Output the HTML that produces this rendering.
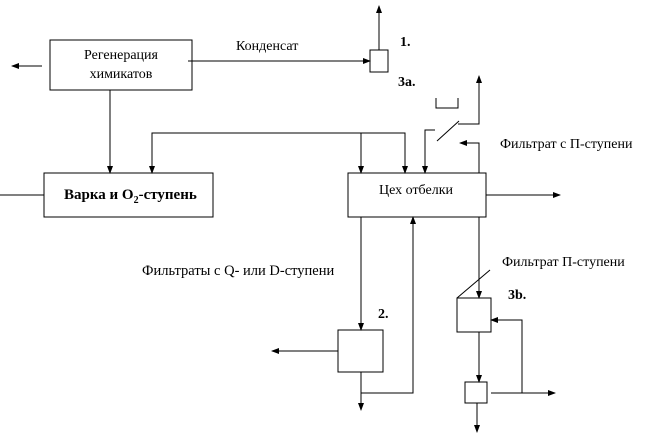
<!DOCTYPE html>
<html><head><meta charset="utf-8"><style>
body{margin:0;background:#fff;width:661px;height:441px;overflow:hidden}
text{font-family:"Liberation Serif",serif;fill:#000}
</style></head><body>
<svg width="661" height="441" xmlns="http://www.w3.org/2000/svg">
<defs><marker id="a" markerWidth="8" markerHeight="6" refX="7" refY="3" orient="auto" markerUnits="userSpaceOnUse"><path d="M0,0 L8,3 L0,6z" fill="#000"/></marker></defs>
<g stroke="#000" stroke-width="1" fill="none">
<rect x="50" y="40" width="142" height="50"/>
<rect x="370" y="50" width="18" height="22"/>
<rect x="44" y="173" width="169" height="44"/>
<rect x="348" y="173" width="138" height="44"/>
<rect x="338" y="330" width="45" height="42"/>
<rect x="457" y="298" width="34" height="34"/>
<rect x="465" y="382" width="22" height="21"/>
<line x1="42" y1="66" x2="12" y2="66" marker-end="url(#a)"/>
<line x1="188" y1="61" x2="370" y2="61" marker-end="url(#a)"/>
<line x1="379" y1="50" x2="379" y2="6" marker-end="url(#a)"/>
<line x1="110" y1="90" x2="110" y2="173" marker-end="url(#a)"/>
<line x1="0" y1="195" x2="44" y2="195"/>
<polyline points="152,173 152,133 405,133 405,173" marker-end="url(#a)"/>
<line x1="152" y1="140" x2="152" y2="173" marker-end="url(#a)"/>
<line x1="361" y1="133" x2="361" y2="173" marker-end="url(#a)"/>
<line x1="486" y1="195" x2="560" y2="195" marker-end="url(#a)"/>
<polyline points="436,98 436,108 458,108 458,98"/>
<polyline points="435,130 425,130 425,173" marker-end="url(#a)"/>
<line x1="437" y1="141" x2="459" y2="121"/>
<polyline points="458,124 479,124 479,76" marker-end="url(#a)"/>
<polyline points="479,173 479,143 460,143" marker-end="url(#a)"/>
<line x1="361" y1="217" x2="361" y2="330" marker-end="url(#a)"/>
<line x1="338" y1="351" x2="272" y2="351" marker-end="url(#a)"/>
<line x1="361" y1="372" x2="361" y2="410" marker-end="url(#a)"/>
<polyline points="361,393 413,393 413,217" marker-end="url(#a)"/>
<line x1="479" y1="217" x2="479" y2="298" marker-end="url(#a)"/>
<line x1="457" y1="298" x2="490" y2="270"/>
<line x1="479" y1="332" x2="479" y2="382" marker-end="url(#a)"/>
<line x1="477" y1="403" x2="477" y2="432" marker-end="url(#a)"/>
<line x1="491" y1="393" x2="555" y2="393" marker-end="url(#a)"/>
<polyline points="522,393 522,320 491,320" marker-end="url(#a)"/>
</g>
<text x="121" y="59" font-size="14" text-anchor="middle">Регенерация</text>
<text x="121" y="78" font-size="14" text-anchor="middle">химикатов</text>
<text x="236" y="50" font-size="14">Конденсат</text>
<text x="400" y="46" font-size="14" font-weight="bold">1.</text>
<text x="398" y="86" font-size="14" font-weight="bold">3a.</text>
<text x="64" y="199" font-size="15" font-weight="bold">Варка и O<tspan font-size="10" dy="4">2</tspan><tspan dy="-4">-ступень</tspan></text>
<text x="416" y="194" font-size="14" text-anchor="middle">Цех отбелки</text>
<text x="500" y="148" font-size="14">Фильтрат с П-ступени</text>
<text x="142" y="275" font-size="14.5">Фильтраты с Q- или D-ступени</text>
<text x="502" y="266" font-size="14">Фильтрат  П-ступени</text>
<text x="508" y="299" font-size="14" font-weight="bold">3b.</text>
<text x="378" y="318" font-size="14" font-weight="bold">2.</text>
</svg>
</body></html>
